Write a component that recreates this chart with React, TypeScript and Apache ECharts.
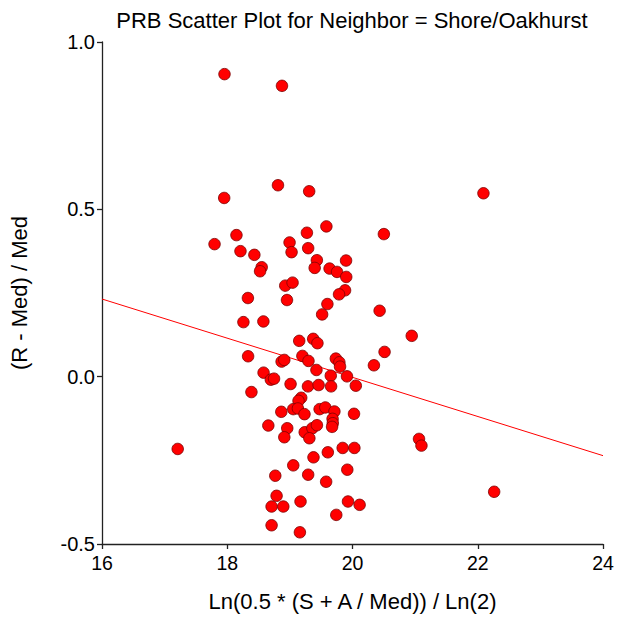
import React, { useEffect, useRef } from "react";
import * as echarts from "echarts";

// Ln(0.5 * (S + A / Med)) / Ln(2) for each sale
const xValues: number[] = [
  17.956, 18.874, 18.81, 19.308, 17.951, 22.091, 19.583, 20.501, 17.797, 18.147,
  18.211, 18.433, 18.55, 18.524, 18.995, 19.027, 19.272, 19.292, 19.431, 19.396,
  19.634, 19.753, 19.897, 19.9, 18.926, 19.043, 19.881, 19.785, 18.33, 18.954,
  19.599, 19.515, 20.433, 18.258, 18.577, 20.946, 19.149, 19.372, 19.44, 20.512,
  18.333, 18.868, 18.911, 19.2, 19.297, 19.734, 19.79, 19.801, 20.342, 19.424,
  18.58, 18.696, 18.747, 19.653, 19.912, 19.011, 19.289, 19.459, 19.658, 20.053,
  18.386, 19.181, 19.138, 18.863, 19.054, 19.128, 19.233, 19.475, 19.566, 19.711,
  19.682, 19.685, 19.674, 20.024, 18.656, 18.958, 18.911, 19.237, 19.359, 19.432,
  19.311, 19.843, 20.03, 19.606, 19.377, 19.054, 19.917, 18.767, 19.292, 19.579,
  18.788, 18.708, 18.895, 19.17, 19.928, 20.114, 19.741, 18.708, 19.16, 21.062,
  21.101, 22.262, 17.209,
];

// (R - Med) / Med for each sale
const yValues: number[] = [
  0.904, 0.869, 0.572, 0.554, 0.534, 0.548, 0.449, 0.426, 0.396, 0.423,
  0.375, 0.364, 0.327, 0.315, 0.401, 0.372, 0.43, 0.384, 0.348, 0.325,
  0.323, 0.313, 0.347, 0.298, 0.272, 0.281, 0.258, 0.246, 0.235, 0.229,
  0.217, 0.186, 0.197, 0.163, 0.165, 0.122, 0.107, 0.113, 0.1, 0.074,
  0.061, 0.045, 0.05, 0.062, 0.047, 0.054, 0.043, 0.03, 0.034, 0.02,
  0.012, -0.009, -0.006, 0.003, 0.001, -0.022, -0.029, -0.025, -0.029, -0.027,
  -0.046, -0.063, -0.072, -0.105, -0.097, -0.095, -0.112, -0.097, -0.092, -0.104,
  -0.126, -0.139, -0.15, -0.111, -0.146, -0.154, -0.181, -0.166, -0.154, -0.145,
  -0.184, -0.213, -0.213, -0.226, -0.241, -0.265, -0.278, -0.296, -0.293, -0.314,
  -0.356, -0.388, -0.388, -0.373, -0.373, -0.383, -0.413, -0.444, -0.465, -0.186,
  -0.206, -0.344, -0.216,
];

// Fitted regression line, evaluated at the ends of the x range
const trendX: number[] = [16, 24];
const trendY: number[] = [0.232, -0.236];

const xTicks: number[] = [16, 18, 20, 22, 24];
const yTicks: number[] = [-0.5, 0.0, 0.5, 1.0];

const FONT = "'Liberation Sans', Arial, Helvetica, sans-serif";

export default function App() {
  const ref = useRef<HTMLDivElement>(null);

  useEffect(() => {
    if (!ref.current) return;
    const chart = echarts.init(ref.current, undefined, { renderer: "svg" });

    const points = xValues.map((x, i) => [x, yValues[i]]);
    const trend = trendX.map((x, i) => [x, trendY[i]]);

    const axisLine = { show: true, onZero: false, lineStyle: { color: "#222", width: 1.3 } };
    const axisTick = { show: true, inside: false, length: 5, lineStyle: { color: "#222", width: 1.3 } };

    chart.setOption({
      animation: false,
      backgroundColor: "#ffffff",
      textStyle: { fontFamily: FONT },
      title: {
        text: "PRB Scatter Plot for Neighbor = Shore/Oakhurst",
        left: 347,
        top: 4,
        textAlign: "center",
        textStyle: {
          fontFamily: FONT,
          fontSize: 22,
          fontWeight: "normal",
          color: "#000",
        },
      },
      grid: { left: 100, right: 24, top: 42, bottom: 72, containLabel: false },
      xAxis: {
        type: "value",
        min: xTicks[0],
        max: xTicks[xTicks.length - 1],
        interval: 2,
        name: "Ln(0.5 * (S + A / Med)) / Ln(2)",
        nameLocation: "middle",
        nameGap: 46,
        nameTextStyle: { fontFamily: FONT, fontSize: 22, color: "#000" },
        axisLine,
        axisTick,
        axisLabel: { fontFamily: FONT, fontSize: 19.5, color: "#000", margin: 9 },
        splitLine: { show: false },
      },
      yAxis: {
        type: "value",
        min: yTicks[0],
        max: yTicks[yTicks.length - 1],
        interval: 0.5,
        name: "(R - Med) / Med",
        nameLocation: "middle",
        nameGap: 72,
        nameRotate: 90,
        nameTextStyle: { fontFamily: FONT, fontSize: 22, color: "#000" },
        axisLine,
        axisTick,
        axisLabel: {
          fontFamily: FONT,
          fontSize: 20,
          color: "#000",
          margin: 7,
          formatter: (v: number) => v.toFixed(1),
        },
        splitLine: { show: false },
      },
      series: [
        {
          type: "line",
          data: trend,
          symbol: "none",
          lineStyle: { color: "#ff0000", width: 1 },
          silent: true,
          z: 1,
        },
        {
          type: "scatter",
          data: points,
          symbol: "circle",
          symbolSize: 11.5,
          itemStyle: { color: "#ff0000", borderColor: "#7a0000", borderWidth: 0.8, opacity: 1 },
          z: 2,
        },
      ],
    });

    return () => chart.dispose();
  }, []);

  return (
    <div
      ref={ref}
      style={{ position: "fixed", left: 0, top: 0, width: 627, height: 617, background: "#fff" }}
    />
  );
}
